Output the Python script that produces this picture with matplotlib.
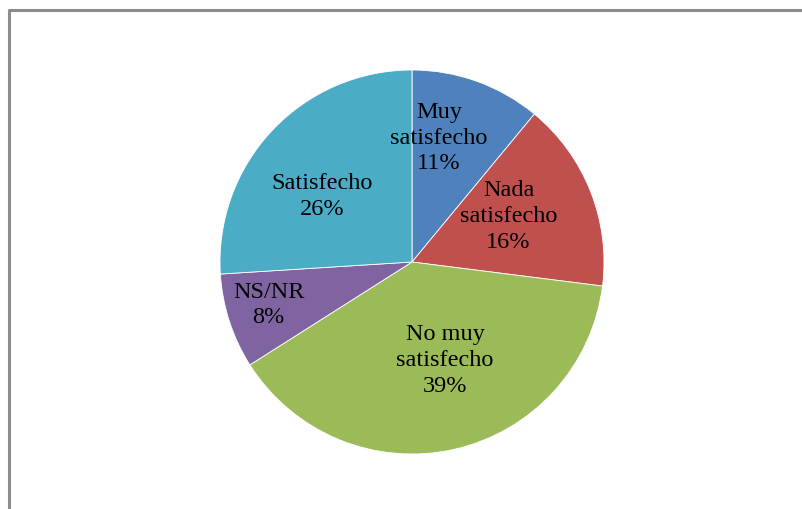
import numpy as np
import matplotlib
matplotlib.use("Agg")
import matplotlib.pyplot as plt

labels = ["Muy\nsatisfecho", "Nada\nsatisfecho", "No muy\nsatisfecho", "NS/NR", "Satisfecho"]
values = [11, 16, 39, 8, 26]
colors = ["#4F81BD", "#C0504D", "#9BBB59", "#8064A2", "#4BACC6"]
# label placement: fraction of radius and small angle nudge (degrees)
label_dist = [0.66, 0.555, 0.54, 0.78, 0.58]
label_nudge = [7.5, 3.5, 6, -1.3, 7]

W, H = 803, 509
fig = plt.figure(figsize=(W / 100, H / 100), dpi=100)

# outer frame (only left and top edges visible in the crop)
frame = fig.add_axes([0, 0, 1, 1])
frame.set_xlim(0, W)
frame.set_ylim(H, 0)
frame.axis("off")
frame.plot([9, 9, W + 5], [H + 5, 10, 10], color="#8c8c8c", lw=2.2, solid_capstyle="butt")

cx, cy, r = 412, 262, 192
ax = fig.add_axes([(cx - r) / W, (H - cy - r) / H, 2 * r / W, 2 * r / H])
wedges, _ = ax.pie(values, colors=colors, startangle=90, counterclock=False,
                   wedgeprops=dict(edgecolor="white", linewidth=0.6))
ax.set_xlim(-1, 1)
ax.set_ylim(-1, 1)
ax.set_aspect("equal")

total = sum(values)
cum = 0
for lab, v, d, n in zip(labels, values, label_dist, label_nudge):
    mid = 90 - (cum + v / 2) / total * 360 + n
    cum += v
    x = d * np.cos(np.radians(mid))
    y = d * np.sin(np.radians(mid))
    ax.text(x, y, f"{lab}\n{v}%", ha="center", va="center", fontsize=17.5,
            family="Liberation Serif", linespacing=1.3)

fig.savefig("out.png", dpi=100)
